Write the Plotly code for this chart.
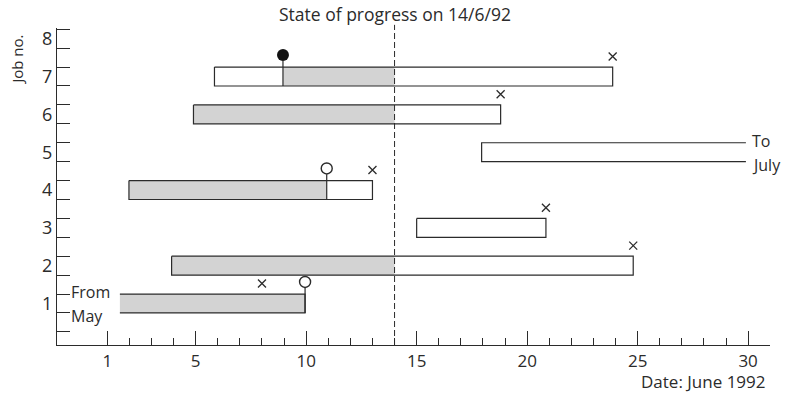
import plotly.graph_objects as go

# ---------------- data ----------------
job_ids    = [7, 6, 5, 4, 3, 2, 1]
bar_start  = [5.85, 4.9, 17.94, 1.98, 15.0, 3.91, 1.57]
bar_end    = [23.87, 18.8, 29.9, 13.0, 20.85, 24.8, 9.95]
done_start = [8.95, 4.9, None, 1.98, None, 3.91, 1.57]
done_end   = [14.0, 14.0, None, 10.93, None, 14.0, 9.95]
open_left  = [False, False, False, False, False, False, True]   # job 1 "From May"
open_right = [False, False, True, False, False, False, False]   # job 5 "To July"

planned_finish_job = [7, 6, 4, 3, 2, 1]
planned_finish_day = [23.87, 18.8, 13.0, 20.85, 24.8, 8.0]
actual_finish_job  = [4, 1]
actual_finish_day  = [10.93, 9.95]
actual_start_job   = [7]
actual_start_day   = [8.95]

progress_day = 14
x_major = [1, 5, 10, 15, 20, 25, 30]
x_minor = list(range(1, 31))
y_labels = [1, 2, 3, 4, 5, 6, 7, 8]

# ---------------- style ----------------
INK = "#2b2b2b"
GREY = "#d3d3d3"
FONT = "Open Sans"
H = 0.25  # half bar thickness (job units)

fig = go.Figure()

# grey (completed) parts
for j, ds, de in zip(job_ids, done_start, done_end):
    if ds is None:
        continue
    fig.add_trace(go.Scatter(
        x=[ds, de, de, ds, ds], y=[j - H, j - H, j + H, j + H, j - H],
        mode="lines", fill="toself", fillcolor=GREY, line=dict(width=0),
        hoverinfo="skip", showlegend=False))

# outlines
for j, s, e, ol, orr in zip(job_ids, bar_start, bar_end, open_left, open_right):
    if ol:
        xs = [s, e, e, s]
        ys = [j + H, j + H, j - H, j - H]
    elif orr:
        xs = [e, s, s, e]
        ys = [j + H, j + H, j - H, j - H]
    else:
        xs = [s, e, e, s, s]
        ys = [j + H, j + H, j - H, j - H, j + H]
    fig.add_trace(go.Scatter(x=xs, y=ys, mode="lines",
                             line=dict(color=INK, width=1.2),
                             hoverinfo="skip", showlegend=False))

# stems for circle markers (actual start / actual finish) through the bar
for jl, dl in ((actual_start_job, actual_start_day), (actual_finish_job, actual_finish_day)):
    for j, d in zip(jl, dl):
        fig.add_trace(go.Scatter(x=[d, d], y=[j - H, j + 0.42], mode="lines",
                                 line=dict(color=INK, width=1.2),
                                 hoverinfo="skip", showlegend=False))

# markers
fig.add_trace(go.Scatter(
    x=planned_finish_day, y=[j + 0.53 for j in planned_finish_job], mode="markers",
    marker=dict(symbol="x-thin", size=8, line=dict(color=INK, width=1.3)),
    hoverinfo="skip", showlegend=False))
fig.add_trace(go.Scatter(
    x=actual_finish_day, y=[j + 0.57 for j in actual_finish_job], mode="markers",
    marker=dict(symbol="circle-open", size=11, color=INK, line=dict(color=INK, width=1.4)),
    hoverinfo="skip", showlegend=False))
fig.add_trace(go.Scatter(
    x=actual_start_day, y=[j + 0.57 for j in actual_start_job], mode="markers",
    marker=dict(symbol="circle", size=12, color="#111111"),
    hoverinfo="skip", showlegend=False))

# progress line
fig.add_shape(type="line", xref="x", yref="paper", x0=progress_day, x1=progress_day,
              y0=0, y1=1.01, line=dict(color=INK, width=1, dash="6px,3px"))

# texts
fig.add_annotation(xref="x", yref="paper", x=progress_day, y=1, yshift=14,
                   text="State of progress on 14/6/92", showarrow=False,
                   xanchor="center", yanchor="middle", font=dict(size=17.5, color=INK, family=FONT))
fig.add_annotation(xref="paper", yref="paper", x=-0.056, y=0.9,
                   text="Job no.", textangle=-90, showarrow=False,
                   xanchor="center", yanchor="middle", font=dict(size=15, color=INK, family=FONT))
fig.add_annotation(xref="paper", yref="paper", x=0.997, y=-0.114,
                   text="Date: June 1992", showarrow=False,
                   xanchor="right", yanchor="middle", font=dict(size=17, color=INK, family=FONT))
fig.add_annotation(xref="paper", yref="y", x=0.017, y=1.25, yshift=2, text="From", showarrow=False,
                   xanchor="left", yanchor="middle", font=dict(size=16, color=INK, family=FONT))
fig.add_annotation(xref="paper", yref="y", x=0.017, y=0.75, yshift=-3, text="May", showarrow=False,
                   xanchor="left", yanchor="middle", font=dict(size=16, color=INK, family=FONT))
fig.add_annotation(xref="x", yref="y", x=29.9, y=5.25, xshift=4, yshift=2, text="To", showarrow=False,
                   xanchor="left", yanchor="middle", font=dict(size=16, color=INK, family=FONT))
fig.add_annotation(xref="x", yref="y", x=29.9, y=4.75, xshift=4, yshift=-3, text="July", showarrow=False,
                   xanchor="left", yanchor="middle", font=dict(size=16, color=INK, family=FONT))

fig.update_layout(
    width=794, height=395,
    margin=dict(l=57, r=24, t=28, b=50, autoexpand=False),
    paper_bgcolor="white", plot_bgcolor="white",
    font=dict(family=FONT, color=INK),
    xaxis=dict(range=[-1.276, 30.99], showgrid=False, zeroline=False, automargin=False,
               showline=True, linecolor=INK, linewidth=1.2,
               tickmode="array", tickvals=x_major, ticks="inside", ticklen=14,
               tickcolor=INK, tickwidth=1.2, tickfont=dict(size=17, color=INK, family=FONT),
               minor=dict(tickmode="array", tickvals=x_minor, ticks="inside", ticklen=7,
                          tickcolor=INK, tickwidth=1, showgrid=False)),
    yaxis=dict(range=[-0.097, 8.283], showgrid=False, zeroline=False, automargin=False,
               showline=True, linecolor=INK, linewidth=1.2,
               tickmode="array", tickvals=y_labels, ticks="",
               tickfont=dict(size=18, color=INK, family=FONT),
               minor=dict(tickmode="array", tickvals=[k + 0.25 for k in range(0, 9)] + [k + 0.75 for k in range(0, 8)],
                          ticks="inside", ticklen=13, tickcolor=INK, tickwidth=1.2, showgrid=False)),
)

fig.write_html("out.html", config={"displayModeBar": False},
               post_script="document.body.style.margin='0';document.body.style.padding='0';document.body.style.overflow='hidden';")
